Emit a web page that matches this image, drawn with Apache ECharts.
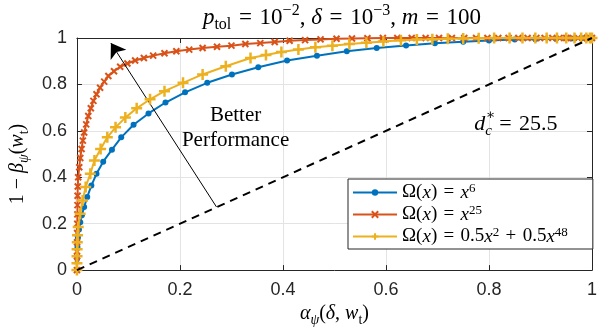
<!DOCTYPE html>
<html><head><meta charset="utf-8">
<script src="https://cdn.jsdelivr.net/npm/echarts@6/dist/echarts.min.js"></script>
<style>html,body{margin:0;padding:0;background:#fff}#c{width:600px;height:332px}</style>
</head><body><div id="c"></div>
<script>
// ---- data ----
const xTicks = [0, 0.2, 0.4, 0.6, 0.8, 1];
const yTicks = [0, 0.2, 0.4, 0.6, 0.8, 1];
const seriesNames = ['x6', 'x25', 'mix'];

const blueX = [0, 0.0005, 0.001, 0.002, 0.004, 0.0065, 0.0096, 0.014, 0.020, 0.028, 0.038, 0.051, 0.068, 0.086, 0.110, 0.139, 0.172, 0.210, 0.253, 0.301, 0.352, 0.408, 0.466, 0.524, 0.582, 0.639, 0.695, 0.750, 0.800, 0.850, 0.890, 0.930, 0.960, 0.980, 0.993, 1];
const blueY = [0, 0.05, 0.10, 0.14, 0.175, 0.206, 0.236, 0.272, 0.315, 0.364, 0.415, 0.467, 0.519, 0.572, 0.626, 0.675, 0.722, 0.766, 0.807, 0.843, 0.874, 0.903, 0.924, 0.943, 0.957, 0.968, 0.977, 0.984, 0.989, 0.993, 0.995, 0.997, 0.998, 0.999, 1, 1];

const orangeX = [0, 0.0001, 0.0002, 0.0003, 0.0005, 0.0007, 0.0009, 0.0011, 0.0013, 0.0016, 0.0025, 0.0045, 0.0065, 0.009, 0.0115, 0.014, 0.018, 0.022, 0.027, 0.032, 0.038, 0.045, 0.053, 0.061, 0.072, 0.084, 0.098, 0.113, 0.130, 0.148, 0.170, 0.193, 0.218, 0.244, 0.272, 0.300, 0.327, 0.356, 0.384, 0.413, 0.443, 0.473, 0.504, 0.534, 0.564, 0.594, 0.622, 0.650, 0.677, 0.703, 0.728, 0.752, 0.775, 0.797, 0.818, 0.838, 0.857, 0.875, 0.892, 0.908, 0.923, 0.937, 0.950, 0.962, 0.973, 0.982, 0.990, 0.996, 1];
const orangeY = [0, 0.04, 0.08, 0.12, 0.16, 0.20, 0.24, 0.28, 0.32, 0.36, 0.40, 0.443, 0.483, 0.522, 0.558, 0.593, 0.628, 0.664, 0.697, 0.729, 0.758, 0.786, 0.812, 0.836, 0.857, 0.876, 0.890, 0.903, 0.914, 0.924, 0.934, 0.943, 0.950, 0.957, 0.962, 0.967, 0.974, 0.978, 0.983, 0.988, 0.991, 0.994, 0.997, 0.998, 0.999, 1, 1, 1, 1, 1, 1, 1, 1, 1, 1, 1, 1, 1, 1, 1, 1, 1, 1, 1, 1, 1, 1, 1, 1];

const yellowX = [0, 0.0001, 0.0002, 0.0004, 0.0007, 0.0012, 0.0025, 0.0063, 0.011, 0.017, 0.026, 0.034, 0.046, 0.059, 0.075, 0.094, 0.116, 0.142, 0.170, 0.206, 0.244, 0.289, 0.337, 0.367, 0.397, 0.430, 0.463, 0.496, 0.529, 0.562, 0.595, 0.629, 0.660, 0.690, 0.720, 0.750, 0.780, 0.810, 0.840, 0.865, 0.890, 0.912, 0.932, 0.950, 0.966, 0.979, 0.989, 0.996, 1];
const yellowY = [0, 0.03, 0.06, 0.09, 0.12, 0.15, 0.186, 0.243, 0.300, 0.358, 0.415, 0.472, 0.522, 0.572, 0.615, 0.657, 0.697, 0.736, 0.771, 0.807, 0.843, 0.878, 0.914, 0.927, 0.940, 0.950, 0.960, 0.967, 0.974, 0.980, 0.985, 0.990, 0.993, 0.995, 0.997, 0.998, 0.999, 1, 1, 1, 1, 1, 1, 1, 1, 1, 1, 1, 1];

const diagX = [0, 1];
const diagY = [0, 1];
const arrowFrom = [0.271, 0.272];
const arrowTo = [0.066, 0.978];
const noteXY = [0.308, 0.611];
const dcXY = [0.852, 0.628];

// ---- styles ----
const SERIF = '"Liberation Serif", "DejaVu Serif", serif';
const SANS = '"Liberation Sans", Arial, sans-serif';
const INK = '#262626';
const C_BLUE = '#0072BD', C_ORANGE = '#D95319', C_YELLOW = '#EDB120';
const EQ = '\u2004=\u2004';
const PL = '\u2004+\u2004';

function mathRich(size, lh) {
  const L = lh || Math.round(size * 1.3);
  const s = Math.round(size * 0.7);
  const base = {fontFamily: SERIF, fontSize: size, color: '#000', lineHeight: L, fontWeight: 'normal'};
  const small = {fontFamily: SERIF, fontSize: s, color: '#000', lineHeight: s, fontWeight: 'normal'};
  return {
    n: Object.assign({}, base),
    i: Object.assign({}, base, {fontStyle: 'italic'}),
    sup: Object.assign({}, small, {verticalAlign: 'top'}),
    sub: Object.assign({}, small, {verticalAlign: 'bottom'}),
    subi: Object.assign({}, small, {verticalAlign: 'bottom', fontStyle: 'italic'})
  };
}

const zip = (xs, ys) => xs.map((x, k) => [x, ys[k]]);
const legendText = {
  x6: '{n|Ω(}{i|x}{n|)' + EQ + '}{i|x}{sup|6}',
  x25: '{n|Ω(}{i|x}{n|)' + EQ + '}{i|x}{sup|25}',
  mix: '{n|Ω(}{i|x}{n|)' + EQ + '0.5}{i|x}{sup|2}{n|' + PL + '0.5}{i|x}{sup|48}'
};

const axisCommon = {
  type: 'value', min: 0, max: 1, interval: 0.2,
  axisLine: {show: true, onZero: false, lineStyle: {color: INK, width: 1}},
  axisTick: {show: true, inside: true, length: 5, lineStyle: {color: INK}},
};

const chart = echarts.init(document.getElementById('c'), null, {renderer: 'canvas'});
chart.setOption({
  animation: false,
  backgroundColor: '#fff',
  title: {
    text: '{i|p}{sub|tol}{n|' + EQ + '10}{sup|−2}{n|, }{i|δ}{n|' + EQ + '10}{sup|−3}{n|, }{i|m}{n|' + EQ + '100}',
    left: 337, top: -2, textAlign: 'center',
    textStyle: {fontWeight: 'normal', rich: mathRich(23)}
  },
  grid: {left: 76, right: 2, top: 38, bottom: 60, containLabel: false},
  legend: {
    data: seriesNames,
    orient: 'vertical', left: 348, top: 179,
    itemWidth: 44, itemHeight: 8, itemGap: 2,
    padding: [3, 25, 3, 4],
    borderColor: INK, borderWidth: 1, backgroundColor: '#fff',
    formatter: name => legendText[name],
    textStyle: {rich: mathRich(19, 21)},
    selectedMode: false
  },
  xAxis: [
    Object.assign({}, axisCommon, {
      position: 'bottom',
      axisLabel: {fontFamily: SANS, fontSize: 18, color: INK, margin: 11},
      splitLine: {show: true, lineStyle: {color: '#e3e3e3', width: 1}},
      name: '{i|α}{subi|ψ}{n|(}{i|δ}{n|, }{i|w}{sub|t}{n|)}',
      nameLocation: 'middle', nameGap: 28,
      nameTextStyle: {rich: mathRich(20)}
    }),
    Object.assign({}, axisCommon, {
      position: 'top', axisLabel: {show: false}, splitLine: {show: false}
    })
  ],
  yAxis: [
    Object.assign({}, axisCommon, {
      position: 'left',
      axisLabel: {fontFamily: SANS, fontSize: 18, color: INK, margin: 10},
      splitLine: {show: true, lineStyle: {color: '#e3e3e3', width: 1}},
      name: '{n|1 − }{i|β}{subi|ψ}{n|(}{i|w}{sub|t}{n|)}',
      nameLocation: 'middle', nameGap: 45,
      nameTextStyle: {padding: [0, 20, 0, 0], rich: mathRich(20)}
    }),
    Object.assign({}, axisCommon, {
      position: 'right', axisLabel: {show: false}, splitLine: {show: false}
    })
  ],
  series: [
    {
      name: 'x6', type: 'line', data: zip(blueX, blueY), clip: false,
      symbol: 'circle', symbolSize: 6, showAllSymbol: true,
      lineStyle: {color: C_BLUE, width: 2},
      itemStyle: {color: C_BLUE},
      z: 3
    },
    {
      name: 'x25', type: 'line', data: zip(orangeX, orangeY), clip: false,
      symbol: 'path://M0,0L10,10M10,0L0,10', symbolSize: 6, showAllSymbol: true,
      lineStyle: {color: C_ORANGE, width: 2},
      itemStyle: {color: C_ORANGE, borderColor: C_ORANGE, borderWidth: 2},
      z: 4
    },
    {
      name: 'mix', type: 'line', data: zip(yellowX, yellowY), clip: false,
      symbol: 'path://M5,0L5,10M0,5L10,5', symbolSize: 11, showAllSymbol: true,
      lineStyle: {color: C_YELLOW, width: 2},
      itemStyle: {color: C_YELLOW, borderColor: C_YELLOW, borderWidth: 2.5},
      z: 5
    },
    {
      name: 'diag', type: 'line', data: zip(diagX, diagY), clip: false,
      symbol: 'none', silent: true,
      lineStyle: {color: '#000', width: 2, type: [8, 6]},
      z: 6,
      markLine: {
        silent: true, symbol: ['none', 'arrow'], symbolSize: 14,
        label: {show: false},
        lineStyle: {color: '#000', width: 1, type: 'solid'},
        data: [[{coord: arrowFrom}, {coord: arrowTo}]]
      }
    },
    {
      name: 'note', type: 'scatter', data: [noteXY], symbolSize: 0, silent: true,
      itemStyle: {opacity: 1},
      label: {show: true, position: 'inside', formatter: 'Better\nPerformance',
        fontFamily: SERIF, fontSize: 21, color: '#000', lineHeight: 25, align: 'center'}
    },
    {
      name: 'dc', type: 'scatter', data: [dcXY], symbolSize: 0, silent: true,
      itemStyle: {opacity: 1},
      label: {show: true, position: 'inside', color: '#000',
        formatter: '{i|d}{subi|c}{n|' + EQ + '25.5}',
        rich: mathRich(22)}
    },
    {
      name: 'dcstar', type: 'scatter', data: [dcXY], symbolSize: 0, silent: true,
      itemStyle: {opacity: 1},
      label: {show: true, position: 'inside', color: '#000', offset: [-25, -9],
        formatter: '∗', fontFamily: SERIF, fontSize: 14}
    }
  ]
});
</script>
</body></html>
